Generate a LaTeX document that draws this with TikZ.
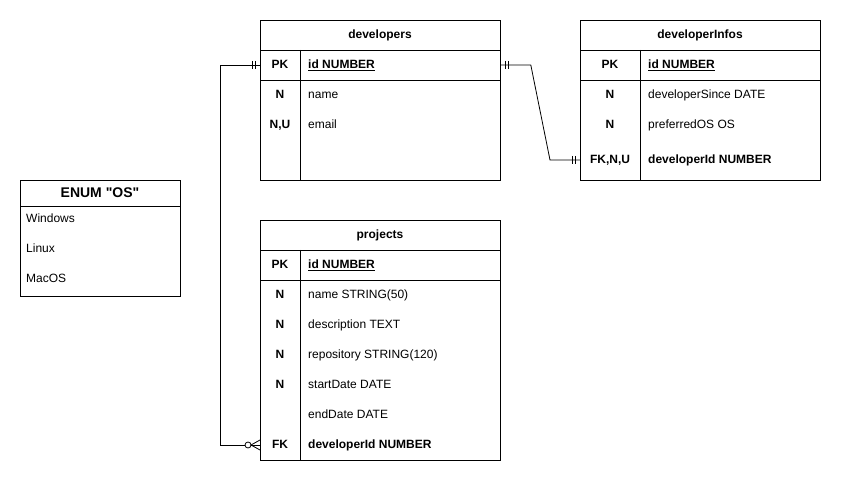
\documentclass[tikz,border=0pt]{standalone}
\usepackage{fontspec}
\setmainfont{Liberation Sans}
\begin{document}
\begin{tikzpicture}[x=1pt,y=-1pt,
  font=\fontsize{12}{14}\selectfont,
  tbl/.style={draw,line width=0.8pt,minimum width=240pt,anchor=north west,inner sep=0pt},
  ln/.style={line width=0.8pt},
  txt/.style={inner sep=0pt,text height=8.6pt,text depth=0pt},
  keytxt/.style={txt,font=\fontsize{12}{14}\selectfont\bfseries,anchor=center},
  fld/.style={txt,anchor=west},
  hdr/.style={txt,font=\fontsize{12}{14}\selectfont\bfseries,anchor=center},
  conn/.style={line width=0.8pt}]
\fill[white] (0,0) rectangle (841,481);
\useasboundingbox (0,0) rectangle (841,481);

% developers
\node[tbl,minimum height=160pt] (dev) at (260,20) {};
\draw[ln] (260,50) -- (500,50);
\draw[ln] (260,80) -- (500,80);
\draw[ln] (300,50) -- (300,180);
\node[hdr] (devh) at (380,34.5) {developers};
\node[keytxt] (dk1) at (280,64.5) {PK};
\node[fld] (df1) at (308,64.5) {\underline{\textbf{id NUMBER}}};
\node[keytxt] (dk2) at (280,94.5) {N};
\node[fld] (df2) at (308,94.5) {name};
\node[keytxt] (dk3) at (280,124.5) {N,U};
\node[fld] (df3) at (308,124.5) {email};

% developerInfos
\node[tbl,minimum height=160pt] (inf) at (580,20) {};
\draw[ln] (580,50) -- (820,50);
\draw[ln] (580,80) -- (820,80);
\draw[ln] (640,50) -- (640,180);
\node[hdr] (infh) at (700,34.5) {developerInfos};
\node[keytxt] (ik1) at (610,64.5) {PK};
\node[fld] (if1) at (648,64.5) {\underline{\textbf{id NUMBER}}};
\node[keytxt] (ik2) at (610,94.5) {N};
\node[fld] (if2) at (648,94.5) {developerSince DATE};
\node[keytxt] (ik3) at (610,124.5) {N};
\node[fld] (if3) at (648,124.5) {preferredOS OS};
\node[keytxt] (ik4) at (610,159) {FK,N,U};
\node[fld] (if4) at (648,159) {\textbf{developerId NUMBER}};

% projects
\node[tbl,minimum height=240pt] (prj) at (260,220) {};
\draw[ln] (260,250) -- (500,250);
\draw[ln] (260,280) -- (500,280);
\draw[ln] (300,250) -- (300,460);
\node[hdr] (prjh) at (380,234.5) {projects};
\node[keytxt] (pk1) at (280,264.5) {PK};
\node[fld] (pf1) at (308,264.5) {\underline{\textbf{id NUMBER}}};
\node[keytxt] (pk2) at (280,294.5) {N};
\node[fld] (pf2) at (308,294.5) {name STRING(50)};
\node[keytxt] (pk3) at (280,324.5) {N};
\node[fld] (pf3) at (308,324.5) {description TEXT};
\node[keytxt] (pk4) at (280,354.5) {N};
\node[fld] (pf4) at (308,354.5) {repository STRING(120)};
\node[keytxt] (pk5) at (280,384.5) {N};
\node[fld] (pf5) at (308,384.5) {startDate DATE};
\node[fld] (pf6) at (308,414.5) {endDate DATE};
\node[keytxt] (pk7) at (280,444.5) {FK};
\node[fld] (pf7) at (308,444.5) {\textbf{developerId NUMBER}};

% ENUM
\node[draw,line width=0.8pt,minimum width=160pt,minimum height=116pt,anchor=north west,inner sep=0pt] (enum) at (20,180) {};
\draw[ln] (20,206) -- (180,206);
\node[txt,text height=10pt,font=\fontsize{14}{16}\selectfont\bfseries] (enumh) at (100,193) {ENUM \textquotedbl OS\textquotedbl};
\node[fld] (e1) at (26,218.5) {Windows};
\node[fld] (e2) at (26,248.5) {Linux};
\node[fld] (e3) at (26,278.5) {MacOS};

% connector developers -> projects
\coordinate (a1) at (dev.west |- 0,65);
\coordinate (a2) at (prj.west |- 0,445);
\draw[conn] (a1) -- ++(-40,0) |- (a2);
\draw[conn] ([xshift=-5]a1) ++(0,-4) -- ++(0,8);
\draw[conn] ([xshift=-8]a1) ++(0,-4) -- ++(0,8);
\fill[white] ([xshift=-12]a2) circle (3);
\draw[conn] ([xshift=-12]a2) circle (3);
\draw[conn] ([xshift=-9]a2) -- ([yshift=-5]a2);
\draw[conn] ([xshift=-9]a2) -- ([yshift=5]a2);

% connector developers -> developerInfos
\coordinate (b1) at (dev.east |- 0,65);
\coordinate (b2) at (inf.west |- 0,160);
\draw[conn] (b1) -- ++(30,0) -- ([xshift=-30]b2) -- (b2);
\draw[conn] ([xshift=5]b1) ++(0,-4) -- ++(0,8);
\draw[conn] ([xshift=8]b1) ++(0,-4) -- ++(0,8);
\draw[conn] ([xshift=-5]b2) ++(0,-4) -- ++(0,8);
\draw[conn] ([xshift=-8]b2) ++(0,-4) -- ++(0,8);
\end{tikzpicture}
\end{document}
